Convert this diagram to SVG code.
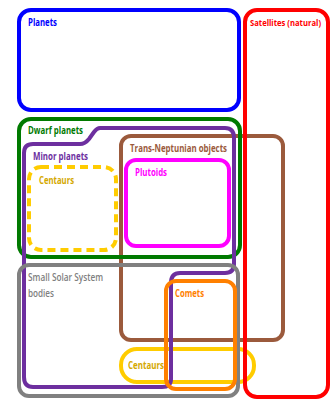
<svg xmlns="http://www.w3.org/2000/svg" width="334" height="399" viewBox="0 0 334 399">
<style>
.b{fill:none;stroke-width:4}
text{font-family:"Open Sans","DejaVu Sans",sans-serif;font-size:10px;font-weight:700}
text.r{font-weight:600}
text.s{font-size:8.4px}
</style>
<rect width="334" height="399" fill="#fff"/>
<g id="tno"><rect class="b" x="121" y="136" width="162" height="204" rx="10" stroke="#9b5a3c"/><text x="130" y="152" fill="#9b5a3c" textLength="97" lengthAdjust="spacingAndGlyphs">Trans-Neptunian objects</text></g>
<g id="centaurs2"><rect class="b" x="121" y="349" width="133" height="33" rx="16" stroke="#ffcc00"/><text x="128" y="369" fill="#d4a800" textLength="36" lengthAdjust="spacingAndGlyphs">Centaurs</text></g>
<g id="planets"><rect class="b" x="19" y="10" width="220" height="100" rx="12" stroke="#0000ff"/><text x="28" y="26" fill="#0000ff" textLength="29" lengthAdjust="spacingAndGlyphs">Planets</text></g>
<g id="dwarf"><rect class="b" x="19" y="119" width="221" height="138" rx="12" stroke="#007a00"/><text x="28" y="134" fill="#007a00" textLength="55" lengthAdjust="spacingAndGlyphs">Dwarf planets</text></g>
<g id="minor"><path class="b" stroke="#6d2f9f" d="M100,128 L225,128 Q234,128 234,138 L234,264 Q234,273 225,273 L180,273 Q171,273 171,283 L171,379 Q171,387 162,387 L33,387 Q24,387 24,377 L24,153 Q24,144 33,144 L80,144 Q85,144 89,139 L94,132 Q97,128 100,128 Z"/><text x="33" y="160" fill="#6d2f9f" textLength="55" lengthAdjust="spacingAndGlyphs">Minor planets</text></g>
<g id="centaurs1"><rect class="b" x="29" y="167" width="87" height="83" rx="12" stroke="#ffcc00" stroke-dasharray="8,5"/><text x="39" y="184" fill="#d4a800" textLength="35" lengthAdjust="spacingAndGlyphs">Centaurs</text></g>
<g id="plutoids"><rect class="b" x="126" y="160" width="103" height="86" rx="10" stroke="#ff00ff"/><text x="135" y="176" fill="#ff00ff" textLength="32" lengthAdjust="spacingAndGlyphs">Plutoids</text></g>
<g id="sssb"><rect class="b" x="19" y="265" width="219" height="131" rx="10" stroke="#808080"/><text class="r" x="28" y="281" fill="#808080" textLength="75" lengthAdjust="spacingAndGlyphs">Small Solar System</text><text class="r" x="28" y="297" fill="#808080" textLength="26" lengthAdjust="spacingAndGlyphs">bodies</text></g>
<g id="comets"><rect class="b" x="166" y="281" width="69" height="108" rx="10" stroke="#ff8000"/><text x="175" y="297" fill="#ff8000" textLength="29" lengthAdjust="spacingAndGlyphs">Comets</text></g>
<g id="satellites"><rect class="b" x="245" y="10" width="83" height="387" rx="12" stroke="#ff0000"/><text class="s" x="250" y="26" fill="#ff0000" textLength="71" lengthAdjust="spacingAndGlyphs">Satellites (natural)</text></g>
<g id="connectors"></g>
</svg>
